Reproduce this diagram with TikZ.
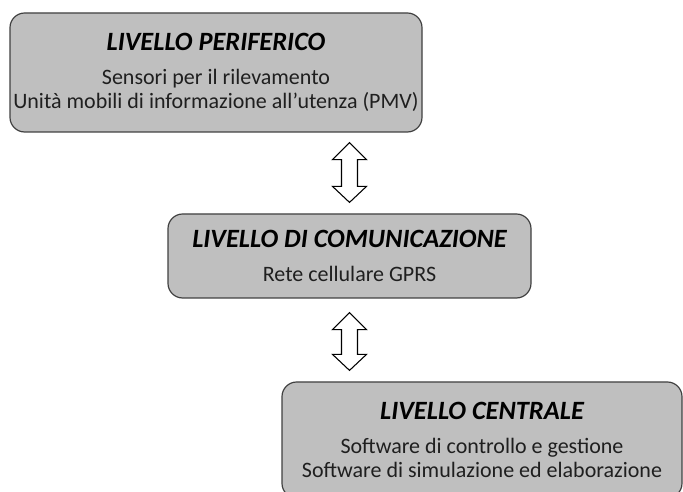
\documentclass[tikz,border=0pt]{standalone}
\usepackage{fontspec}
\setmainfont{Carlito}
\usetikzlibrary{calc}
\definecolor{boxgray}{HTML}{BFBFBF}
\definecolor{boxline}{HTML}{404040}
\definecolor{bodytext}{HTML}{1F1F1F}

% hollow double arrow between two coordinates (top, bottom)
\newcommand{\levelarrow}[2]{%
  \draw[hollow] (#1) -- ($(#1)+(-17,-17)$) -- ($(#1)+(-8,-17)$)
    -- ($(#2)+(-8,16)$) -- ($(#2)+(-17,16)$) -- (#2)
    -- ($(#2)+(17,16)$) -- ($(#2)+(8,16)$)
    -- ($(#1)+(8,-17)$) -- ($(#1)+(17,-17)$) -- cycle;}

\begin{document}
\begin{tikzpicture}[
    x=0.75pt, y=0.75pt,
    level/.style={draw=boxline, line width=0.9pt, fill=boxgray,
                  rounded corners=11pt, align=center, inner sep=0pt,
                  text=bodytext, font=\fontsize{16.5}{18}\selectfont},
    hollow/.style={draw=black, line width=0.8pt, fill=white, line join=miter}
]
    \useasboundingbox (0,0) rectangle (683,492);

    \node[level, minimum width=309pt, minimum height=89.25pt] (periferico) at (216, 419.5)
        {{\color{black}\fontsize{19.8}{18}\selectfont\bfseries\itshape LIVELLO PERIFERICO}\\[8pt]
         Sensori per il rilevamento\\
         Unità mobili di informazione all’utenza (PMV)};
    \node[level, minimum width=272.25pt, minimum height=63pt] (comunicazione) at (349.5, 236)
        {{\color{black}\fontsize{19.8}{18}\selectfont\bfseries\itshape LIVELLO DI COMUNICAZIONE}\\[8pt]
         Rete cellulare GPRS};
    \node[level, minimum width=300pt, minimum height=87pt] (centrale) at (482, 52)
        {{\color{black}\fontsize{19.8}{18}\selectfont\bfseries\itshape LIVELLO CENTRALE}\\[8pt]
         Software di controllo e gestione\\
         Software di simulazione ed elaborazione};

    \coordinate (arr1top) at ($(periferico.south -| comunicazione.north)+(0,-10)$);
    \coordinate (arr1bot) at ($(comunicazione.north)+(0,11)$);
    \coordinate (arr2top) at ($(comunicazione.south)+(0,-14)$);
    \coordinate (arr2bot) at ($(centrale.north -| comunicazione.south)+(0,11)$);

    \levelarrow{arr1top}{arr1bot}
    \levelarrow{arr2top}{arr2bot}
\end{tikzpicture}
\end{document}
